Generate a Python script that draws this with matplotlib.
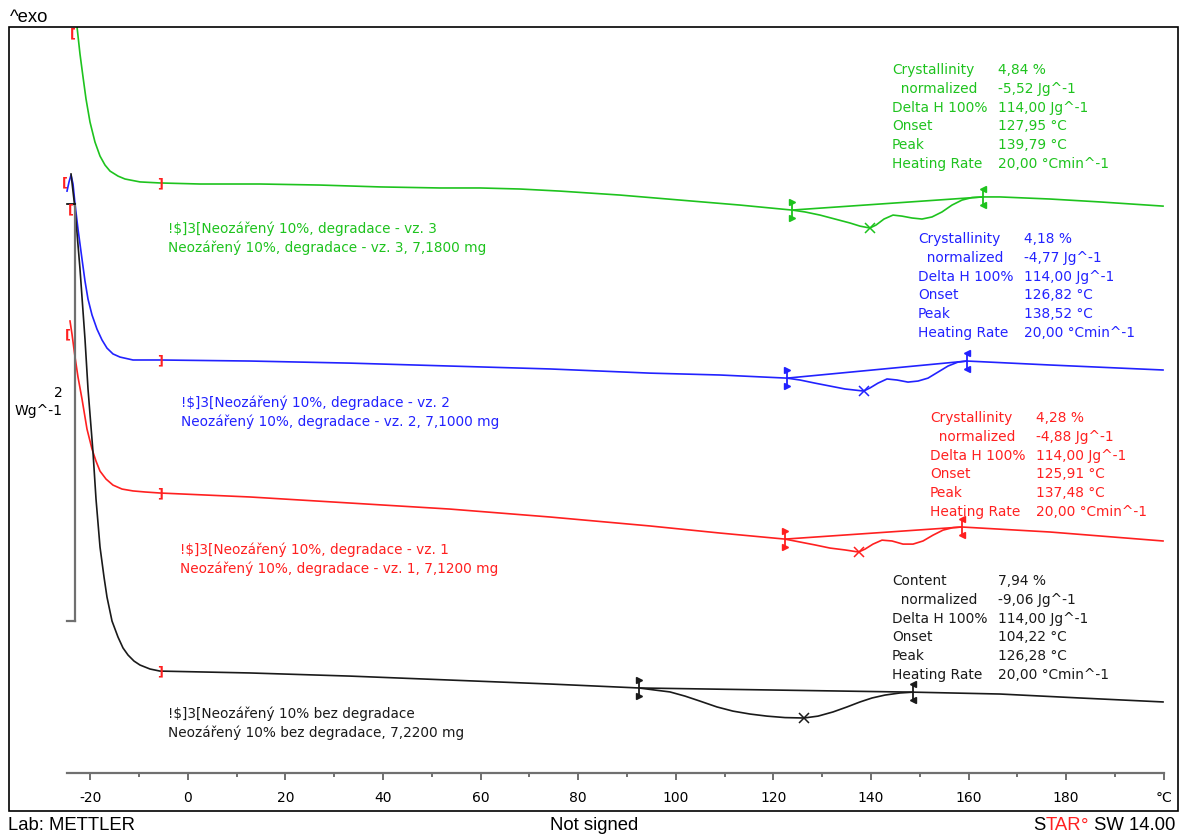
import numpy as np
import matplotlib.pyplot as plt
from matplotlib.patches import Rectangle
from matplotlib.transforms import offset_copy

# DSC curves, temperature in °C, heat flow in W/g (curves shifted as drawn)
green_t = [-22.99, -22.68, -22.07, -21.45, -20.84, -20.02, -19.00, -17.97, -16.95, -15.92,
           -14.28, -12.85, -9.77, -5.68, 2.52, 14.82, 27.11, 39.41, 51.70, 59.90, 68.09,
           76.29, 88.59, 100.88, 113.18, 123.83, 126.50, 129.57, 132.64, 135.72, 137.77,
           139.79, 141.04, 142.68, 144.53, 146.37, 148.42, 150.47, 152.52, 154.57, 156.62,
           158.67, 160.72, 162.97, 166.45, 176.70, 186.95, 199.86]
green_y = [2.911, 2.849, 2.719, 2.609, 2.504, 2.393, 2.297, 2.230, 2.187, 2.158,
           2.134, 2.120, 2.106, 2.101, 2.096, 2.096, 2.091, 2.082, 2.077, 2.077, 2.072,
           2.062, 2.043, 2.019, 1.995, 1.971, 1.962, 1.947, 1.928, 1.909, 1.894,
           1.885, 1.899, 1.928, 1.947, 1.942, 1.933, 1.928, 1.938, 1.962, 1.995,
           2.019, 2.031, 2.034, 2.034, 2.024, 2.010, 1.990]

blue_t = [-24.73, -24.32, -23.91, -23.50, -23.09, -22.48, -21.66, -21.05, -20.43, -19.61,
          -18.59, -17.56, -16.54, -15.31, -13.87, -11.21, -5.68, 12.77, 33.26, 53.75,
          74.24, 94.73, 109.08, 122.81, 125.47, 128.55, 131.62, 134.69, 138.52, 139.82,
          141.45, 143.30, 145.35, 147.60, 149.65, 151.70, 153.75, 155.80, 157.85, 159.69,
          176.70, 199.86]
blue_y = [2.062, 2.106, 2.139, 2.096, 2.000, 1.880, 1.736, 1.631, 1.544, 1.468,
          1.400, 1.348, 1.309, 1.281, 1.266, 1.252, 1.252, 1.247, 1.237, 1.223,
          1.209, 1.189, 1.180, 1.165, 1.156, 1.141, 1.127, 1.113, 1.103, 1.118,
          1.141, 1.161, 1.156, 1.146, 1.151, 1.165, 1.194, 1.223, 1.242, 1.247,
          1.228, 1.204]

red_t = [-24.12, -23.71, -23.09, -22.48, -21.66, -20.64, -19.61, -18.79, -17.97, -16.74,
         -15.31, -13.46, -11.21, -8.75, -5.68, 12.77, 33.26, 53.75, 74.24, 94.73,
         109.08, 122.40, 125.47, 128.55, 131.62, 134.69, 137.48, 138.79, 140.43, 142.27,
         144.32, 146.58, 148.63, 150.68, 152.73, 154.77, 156.82, 158.67, 176.70, 199.86]
red_y = [1.439, 1.376, 1.266, 1.170, 1.065, 0.921, 0.825, 0.767, 0.719, 0.681,
         0.652, 0.633, 0.624, 0.619, 0.614, 0.595, 0.566, 0.537, 0.499, 0.456,
         0.422, 0.393, 0.379, 0.365, 0.350, 0.341, 0.331, 0.345, 0.369, 0.388,
         0.384, 0.369, 0.369, 0.384, 0.412, 0.436, 0.448, 0.451, 0.427, 0.384]

black_t = [-23.91, -23.09, -22.07, -21.05, -20.43, -19.41, -18.79, -17.97, -17.15, -16.54,
           -15.51, -14.28, -13.26, -12.23, -11.00, -9.77, -7.73, -5.68, 12.77, 33.26,
           53.75, 74.24, 92.48, 95.76, 98.83, 101.91, 104.98, 108.46, 111.74, 115.23,
           118.71, 122.40, 126.28, 129.16, 132.23, 135.10, 137.77, 140.23, 142.89, 145.96,
           148.63, 166.45, 182.85, 199.86]
black_y = [2.144, 1.976, 1.688, 1.353, 1.113, 0.811, 0.585, 0.355, 0.211, 0.115,
           0.000, -0.077, -0.129, -0.163, -0.192, -0.211, -0.230, -0.240, -0.249, -0.264,
           -0.283, -0.302, -0.321, -0.331, -0.340, -0.360, -0.384, -0.412, -0.432, -0.446,
           -0.456, -0.463, -0.465, -0.456, -0.436, -0.412, -0.388, -0.369, -0.355, -0.345,
           -0.341, -0.350, -0.369, -0.388]

# integration limits and peak temperatures
green_lim = [123.83, 162.97]
blue_lim = [122.81, 159.69]
red_lim = [122.40, 158.67]
black_lim = [92.48, 148.63]
peaks = [139.79, 138.52, 137.48, 126.28]
bracket_t = -5.68

labels = [
    ["!\\$]3[Neozářený 10%, degradace - vz. 3", "Neozářený 10%, degradace - vz. 3, 7,1800 mg"],
    ["!\\$]3[Neozářený 10%, degradace - vz. 2", "Neozářený 10%, degradace - vz. 2, 7,1000 mg"],
    ["!\\$]3[Neozářený 10%, degradace - vz. 1", "Neozářený 10%, degradace - vz. 1, 7,1200 mg"],
    ["!\\$]3[Neozářený 10% bez degradace", "Neozářený 10% bez degradace, 7,2200 mg"],
]
rows_cryst = ["Crystallinity", "  normalized", "Delta H 100%", "Onset", "Peak", "Heating Rate"]
rows_content = ["Content", "  normalized", "Delta H 100%", "Onset", "Peak", "Heating Rate"]
values = [
    ["4,84 %", "-5,52 Jg^-1", "114,00 Jg^-1", "127,95 °C", "139,79 °C", "20,00 °Cmin^-1"],
    ["4,18 %", "-4,77 Jg^-1", "114,00 Jg^-1", "126,82 °C", "138,52 °C", "20,00 °Cmin^-1"],
    ["4,28 %", "-4,88 Jg^-1", "114,00 Jg^-1", "125,91 °C", "137,48 °C", "20,00 °Cmin^-1"],
    ["7,94 %", "-9,06 Jg^-1", "114,00 Jg^-1", "104,22 °C", "126,28 °C", "20,00 °Cmin^-1"],
]
xticks = [-20, 0, 20, 40, 60, 80, 100, 120, 140, 160, 180, 200]
xtick_labels = ["-20", "0", "20", "40", "60", "80", "100", "120", "140", "160", "180", "°C"]
scale_bar = [0, 2]

W, H = 1189, 837
fig = plt.figure(figsize=(W / 100, H / 100), dpi=100)


def fx(px):
    return px / W


def fy(py):
    return 1 - py / H


ax = fig.add_axes([fx(9), fy(812), (1178 - 9) / W, (812 - 28) / H])
ax.set_xlim(-36.62, 202.93)
ax.set_ylim(-0.911, 2.849)
for s in ['top', 'left', 'right']:
    ax.spines[s].set_visible(False)
ax.add_patch(Rectangle((0, 0), 1, 1, transform=ax.transAxes, fill=False,
                       ec='black', lw=1.2, clip_on=False, zorder=5))

# temperature axis drawn inside the frame
ax.spines['bottom'].set_position(('data', -0.729))
ax.spines['bottom'].set_bounds(-24.7, 200)
ax.spines['bottom'].set_color('#707070')
ax.spines['bottom'].set_linewidth(1.6)
ax.set_xticks(xticks, xtick_labels)
ax.set_xticks(np.arange(-10, 200, 20), minor=True)
ax.tick_params(axis='x', which='major', direction='out', length=5, width=1.4,
               color='#707070', pad=7, labelsize=10)
ax.tick_params(axis='x', which='minor', direction='out', length=3, width=1.4,
               color='#707070')
ax.set_yticks([])

green = '#1ec31e'
blue = '#2222ff'
red = '#ff2020'
black = '#1a1a1a'
curves = [(green_t, green_y, green_lim, green), (blue_t, blue_y, blue_lim, blue),
          (red_t, red_y, red_lim, red), (black_t, black_y, black_lim, black)]

up = offset_copy(ax.transData, fig=fig, x=0, y=8, units='dots')
down = offset_copy(ax.transData, fig=fig, x=0, y=-8, units='dots')

for (t, y, lim, c), pk in zip(curves, peaks):
    ax.plot(t, y, color=c, lw=1.2)
    yl = np.interp(lim, t, y)
    ax.plot(lim, yl, color=c, lw=1.2)
    ax.plot(pk, np.interp(pk, t, y), marker='x', ms=7, mew=1.1, color=c)
    for tt, yy, mk in zip(lim, yl, ['>', '<']):
        ax.plot(tt, yy, marker='|', ms=13, mew=1.3, color=c)
        ax.plot(tt, yy, marker=mk, ms=4, color=c, transform=up)
        ax.plot(tt, yy, marker=mk, ms=4, color=c, transform=down)
    ax.text(bracket_t, np.interp(bracket_t, t, y), "]", color=red, fontsize=9,
            fontweight='bold', ha='center', va='center')
    ax.text(t[1] - 0.3, min(y[1], 2.82), "[", color=red, fontsize=9,
            fontweight='bold', ha='right', va='center')

# scale bar
ax.plot([-23.09, -23.09], scale_bar, color='#707070', lw=1.6)
ax.plot([-24.73, -23.09], [scale_bar[0]] * 2, color='#707070', lw=1.6)
ax.plot([-24.73, -23.09], [scale_bar[1]] * 2, color='black', lw=1.2)
fig.text(fx(63), fy(393), "2", ha='right', va='center', fontsize=10)
fig.text(fx(63), fy(411), "Wg^-1", ha='right', va='center', fontsize=10)

# curve names
label_pos = [(168, 229), (181, 403), (180, 550), (168, 714)]
for (px, py), lab, (_, _, _, c) in zip(label_pos, labels, curves):
    fig.text(fx(px), fy(py), lab[0], color=c, fontsize=9.8, va='center')
    fig.text(fx(px), fy(py + 19), lab[1], color=c, fontsize=9.8, va='center')

# evaluation tables
table_pos = [(892, 998, 70), (918, 1024, 239), (930, 1036, 418), (892, 998, 581)]
for i, ((lx, vx, y0), vals, (_, _, _, c)) in enumerate(zip(table_pos, values, curves)):
    rows = rows_content if i == 3 else rows_cryst
    for j, (r, v) in enumerate(zip(rows, vals)):
        yy = y0 + j * 18.8
        fig.text(fx(lx), fy(yy), r, color=c, fontsize=9.9, va='center')
        fig.text(fx(vx), fy(yy), v, color=c, fontsize=9.9, va='center')

# header and footer
fs = 13.3
fig.text(fx(10), fy(17), "^exo", fontsize=fs, family='Liberation Sans', va='center')
fig.text(fx(8), fy(826), "Lab: METTLER", fontsize=fs, family='Liberation Sans', va='center')
fig.text(fx(594), fy(826), "Not signed", fontsize=fs, family='Liberation Sans',
         va='center', ha='center')
t1 = fig.text(fx(1175), fy(826), " SW 14.00", fontsize=fs, family='Liberation Sans',
              va='center', ha='right')
t2 = ax.annotate("°", xy=(0, 0.5), xycoords=t1, fontsize=fs, color=red,
                 family='Liberation Sans', ha='right', va='center', annotation_clip=False)
t3 = ax.annotate("TAR", xy=(0, 0.5), xycoords=t2, fontsize=fs, color=red,
                 family='Liberation Sans', ha='right', va='center', annotation_clip=False)
ax.annotate("S", xy=(0, 0.5), xycoords=t3, fontsize=fs, color='black',
            family='Liberation Sans', ha='right', va='center', annotation_clip=False)

fig.savefig("out.png", dpi=100)
